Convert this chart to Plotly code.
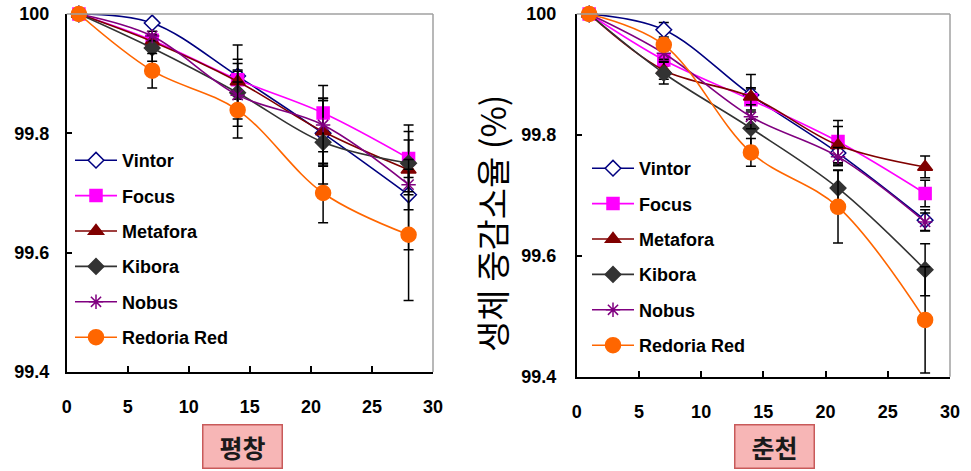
import plotly.graph_objects as go

# ---------------- data ----------------
days = [1, 7, 14, 21, 28]
names = ["Vintor", "Focus", "Metafora", "Kibora", "Nobus", "Redoria Red"]

# 평창 (left panel)
pc_vintor = [100, 99.985, 99.896, 99.800, 99.697]
pc_focus = [100, 99.956, 99.890, 99.834, 99.758]
pc_metafora = [100, 99.954, 99.887, 99.803, 99.739]
pc_kibora = [100, 99.943, 99.868, 99.785, 99.750]
pc_nobus = [100, 99.963, 99.864, 99.814, 99.714]
pc_redoria = [100, 99.905, 99.839, 99.700, 99.630]

pc_vintor_err = [0, 0.005, 0.010, 0.055, 0.092]
pc_focus_err = [0, 0.010, 0.058, 0.046, 0.056]
pc_metafora_err = [0, 0.010, 0.030, 0.056, 0.013]
pc_kibora_err = [0, 0.022, 0.056, 0.070, 0.053]
pc_nobus_err = [0, 0.008, 0.040, 0.045, 0.042]
pc_redoria_err = [0, 0.029, 0.047, 0.050, 0.110]

# 춘천 (right panel)
cc_vintor = [100, 99.974, 99.866, 99.770, 99.659]
cc_focus = [100, 99.924, 99.858, 99.789, 99.703]
cc_metafora = [100, 99.907, 99.863, 99.783, 99.747]
cc_kibora = [100, 99.902, 99.811, 99.712, 99.577]
cc_nobus = [100, 99.935, 99.830, 99.764, 99.656]
cc_redoria = [100, 99.949, 99.771, 99.681, 99.494]

cc_vintor_err = [0, 0.012, 0.010, 0.020, 0.017]
cc_focus_err = [0, 0.010, 0.020, 0.035, 0.022]
cc_metafora_err = [0, 0.015, 0.037, 0.031, 0.018]
cc_kibora_err = [0, 0.018, 0.030, 0.030, 0.043]
cc_nobus_err = [0, 0.010, 0.020, 0.015, 0.015]
cc_redoria_err = [0, 0.010, 0.023, 0.060, 0.088]

x_ticks = [0, 5, 10, 15, 20, 25, 30]
y_ticks = [99.4, 99.6, 99.8, 100]
y_ticktext = ["99.4", "99.6", "99.8", "100"]
panel_titles = ["평창", "춘천"]
y_title = "생체 중감소율 (%)"

left_vals = [pc_vintor, pc_focus, pc_metafora, pc_kibora, pc_nobus, pc_redoria]
left_errs = [pc_vintor_err, pc_focus_err, pc_metafora_err, pc_kibora_err, pc_nobus_err, pc_redoria_err]
right_vals = [cc_vintor, cc_focus, cc_metafora, cc_kibora, cc_nobus, cc_redoria]
right_errs = [cc_vintor_err, cc_focus_err, cc_metafora_err, cc_kibora_err, cc_nobus_err, cc_redoria_err]

# ---------------- styles ----------------
colors = ["#000080", "#FF00FF", "#800000", "#333333", "#800080", "#FF6600"]
symbols = ["diamond", "square", "triangle-up", "diamond", "asterisk-open", "circle"]
fills = ["white", "#FF00FF", "#800000", "#333333", "#800080", "#FF6600"]
sizes = [12, 12, 13, 12, 12, 15]

W, H = 971, 471
def px(x):
    return x / W
def py(y):
    return 1 - y / H

fig = go.Figure()

def add_panel(vals, errs, xa, ya, legend, grp):
    for i, name in enumerate(names):
        fig.add_trace(go.Scatter(
            x=days, y=vals[i], name=name, mode="lines+markers",
            xaxis=xa, yaxis=ya, legend=legend, legendgroup=grp + str(i),
            line=dict(color=colors[i], width=1.6, shape="spline", smoothing=1.0),
            marker=dict(symbol=symbols[i], size=sizes[i], color=fills[i],
                        line=dict(color=colors[i], width=1.5)),
            error_y=dict(type="data", array=errs[i], visible=True,
                         color="black", thickness=1.5, width=5),
            cliponaxis=False,
        ))

add_panel(left_vals, left_errs, "x", "y", "legend", "L")
add_panel(right_vals, right_errs, "x2", "y2", "legend2", "R")

tickfont = dict(family="Liberation Sans, Arial", size=18, color="black", weight="bold")
axis_common = dict(showgrid=False, zeroline=False, ticks="inside", ticklen=6,
                   tickwidth=1.5, tickcolor="black", showline=True,
                   linecolor="black", linewidth=1.5, tickfont=tickfont,
                   automargin=False)
legfont = dict(family="Liberation Sans, Arial", size=18, color="black", weight="bold")

fig.update_layout(
    width=W, height=H,
    margin=dict(l=0, r=0, t=0, b=0, pad=0, autoexpand=False),
    paper_bgcolor="white", plot_bgcolor="white",
    xaxis=dict(domain=[px(66.7), px(433)], range=[0, 30], tickvals=x_ticks,
               anchor="y", ticklabelstandoff=18, **axis_common),
    yaxis=dict(domain=[py(372), py(14)], range=[99.4, 100], tickvals=y_ticks,
               ticktext=y_ticktext, anchor="x", ticklabelstandoff=12, **axis_common),
    xaxis2=dict(domain=[px(576.7), px(950)], range=[0, 30], tickvals=x_ticks,
                anchor="y2", ticklabelstandoff=18, **axis_common),
    yaxis2=dict(domain=[py(376.7), py(14)], range=[99.4, 100], tickvals=y_ticks,
                ticktext=y_ticktext, anchor="x2", ticklabelstandoff=15, **axis_common),
    legend=dict(x=px(70), y=py(142), xanchor="left", yanchor="top",
                bgcolor="rgba(0,0,0,0)", itemwidth=42, tracegroupgap=9,
                font=legfont),
    legend2=dict(x=px(587), y=py(150), xanchor="left", yanchor="top",
                 bgcolor="rgba(0,0,0,0)", itemwidth=42, tracegroupgap=9,
                 font=legfont),
    showlegend=True,
)

# gray top/right frame lines
for xr, yr in [("x domain", "y domain"), ("x2 domain", "y2 domain")]:
    fig.add_shape(type="line", xref=xr, yref=yr, x0=0, x1=1, y0=1, y1=1,
                  line=dict(color="#a0a0a0", width=1.5))
    fig.add_shape(type="line", xref=xr, yref=yr, x0=1, x1=1, y0=0, y1=1,
                  line=dict(color="#a0a0a0", width=1.5))

# panel labels in boxes
for cx, txt in [(243, panel_titles[0]), (774.5, panel_titles[1])]:
    fig.add_annotation(x=px(cx), y=py(446), xref="paper", yref="paper",
                       xanchor="center", yanchor="middle",
                       text="<b>" + txt + "</b>", showarrow=False,
                       font=dict(family="Noto Sans CJK KR", size=25, color="#1a1a1a"),
                       bgcolor="#f7b6b6", bordercolor="#c85a5a", borderwidth=1.5,
                       borderpad=4, width=70, height=34)

# y axis title for right panel
fig.add_annotation(x=px(491), y=py(224), xref="paper", yref="paper",
                   xanchor="center", yanchor="middle",
                   text=y_title, textangle=-90, showarrow=False,
                   font=dict(family="Noto Sans CJK KR", size=34, color="black"))

fig.write_html("out.html", config={"displayModeBar": False},
               post_script="document.body.style.margin='0px';document.body.style.overflow='hidden';")
